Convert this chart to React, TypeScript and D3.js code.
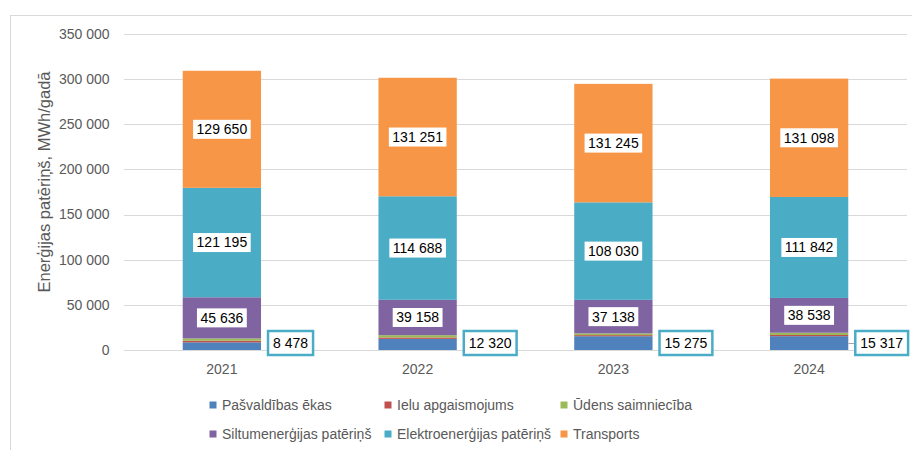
import React, { useRef, useEffect } from "react";
import * as d3 from "d3";

const years = ["2021", "2022", "2023", "2024"];
const seriesNames = [
  "Pašvaldības ēkas",
  "Ielu apgaismojums",
  "Ūdens saimniecība",
  "Siltumenerģijas patēriņš",
  "Elektroenerģijas patēriņš",
  "Transports",
];
const pasvaldibasEkas = [8478, 12320, 15275, 15317];
const ieluApgaismojums = [1800, 1600, 1200, 1300];
const udensSaimnieciba = [2500, 2500, 1900, 2500];
const siltumenergija = [45636, 39158, 37138, 38538];
const elektroenergija = [121195, 114688, 108030, 111842];
const transports = [129650, 131251, 131245, 131098];
const yTicks = [0, 50000, 100000, 150000, 200000, 250000, 300000, 350000];
const colors = ["#4F81BD", "#C0504D", "#9BBB59", "#8064A2", "#4BACC6", "#F79646"];

const seriesValues = [
  pasvaldibasEkas,
  ieluApgaismojums,
  udensSaimnieciba,
  siltumenergija,
  elektroenergija,
  transports,
];

const font = "'Liberation Sans', Arial, sans-serif";
const fmt = (v: number) => d3.format(",")(v).replace(/,/g, "\u00a0");

const App = () => {
  const svgRef = useRef<SVGSVGElement>(null);

  const width = 912;
  const height = 450;
  const marginTop = 34;
  const marginLeft = 124;
  const marginRight = 5;
  const plotBottom = 350;

  useEffect(() => {
    const svg = d3.select(svgRef.current);
    svg.selectAll("*").remove();

    // outer chart area border
    svg.append("line").attr("x1", 10.5).attr("x2", 10.5).attr("y1", 15).attr("y2", height)
      .attr("stroke", "#D9D9D9");
    svg.append("line").attr("x1", 10).attr("x2", width).attr("y1", 15.5).attr("y2", 15.5)
      .attr("stroke", "#D9D9D9");

    const x = d3.scaleBand()
      .domain(years)
      .range([marginLeft, width - marginRight])
      .paddingInner(0.6)
      .paddingOuter(0.3);

    const y = d3.scaleLinear()
      .domain([0, 350000])
      .range([plotBottom, marginTop]);

    // gridlines + tick labels
    const grid = svg.append("g");
    grid.selectAll("line")
      .data(yTicks)
      .join("line")
      .attr("x1", marginLeft)
      .attr("x2", width - marginRight)
      .attr("y1", d => Math.round(y(d)) + 0.5)
      .attr("y2", d => Math.round(y(d)) + 0.5)
      .attr("stroke", "#D9D9D9")
      .attr("stroke-width", 1);
    grid.selectAll("text")
      .data(yTicks)
      .join("text")
      .attr("x", 109.5)
      .attr("y", d => y(d))
      .attr("dy", "0.35em")
      .attr("text-anchor", "end")
      .attr("font-family", font)
      .attr("font-size", 14)
      .attr("fill", "#595959")
      .text(d => fmt(d));

    // y axis title
    svg.append("text")
      .attr("transform", `translate(44,182) rotate(-90)`)
      .attr("text-anchor", "middle")
      .attr("dy", "0.35em")
      .attr("font-family", font)
      .attr("font-size", 16.5)
      .attr("fill", "#595959")
      .text("Enerģijas patēriņš, MWh/gadā");

    // stacked data
    const table = years.map((yr, i) => {
      const row: Record<string, number | string> = { year: yr };
      seriesNames.forEach((s, k) => (row[s] = seriesValues[k][i]));
      return row;
    });
    const stacked = d3.stack<any>().keys(seriesNames)(table);

    const layers = svg.append("g")
      .selectAll("g")
      .data(stacked)
      .join("g")
      .attr("fill", (_, k) => colors[k]);
    layers.selectAll("rect")
      .data(d => d)
      .join("rect")
      .attr("x", d => x(d.data.year as string)!)
      .attr("width", x.bandwidth())
      .attr("y", d => y(d[1]))
      .attr("height", d => y(d[0]) - y(d[1]));

    // x labels
    svg.append("g")
      .selectAll("text")
      .data(years)
      .join("text")
      .attr("x", d => x(d)! + x.bandwidth() / 2)
      .attr("y", 369)
      .attr("dy", "0.35em")
      .attr("text-anchor", "middle")
      .attr("font-family", font)
      .attr("font-size", 14)
      .attr("fill", "#595959")
      .text(d => d);

    // inside data labels
    const labelGroup = svg.append("g");
    [3, 4, 5].forEach(k => {
      stacked[k].forEach(d => {
        const cx = x(d.data.year as string)! + x.bandwidth() / 2;
        const cy = (y(d[0]) + y(d[1])) / 2;
        const g = labelGroup.append("g");
        const rect = g.append("rect").attr("fill", "#FFFFFF");
        const t = g.append("text")
          .attr("x", cx)
          .attr("y", cy)
          .attr("dy", "0.35em")
          .attr("text-anchor", "middle")
          .attr("font-family", font)
          .attr("font-size", 14)
          .attr("fill", "#000000")
          .text(fmt(d[1] - d[0]));
        const w = (t.node() as SVGTextElement).getComputedTextLength();
        rect.attr("x", cx - w / 2 - 3.5).attr("y", cy - 9.5)
          .attr("width", w + 7).attr("height", 19);
      });
    });

    // outside boxed labels for the first series
    stacked[0].forEach(d => {
      const barRight = x(d.data.year as string)! + x.bandwidth();
      const left = barRight + 7;
      const cy = plotBottom - 7;
      const g = labelGroup.append("g");
      const lead = g.append("line")
        .attr("x1", barRight).attr("y1", cy + 0.5)
        .attr("x2", left).attr("y2", cy + 0.5)
        .attr("stroke", "#A6A6A6");
      const rect = g.append("rect")
        .attr("fill", "#FFFFFF")
        .attr("stroke", "#4BACC6")
        .attr("stroke-width", 2.5);
      const t = g.append("text")
        .attr("y", cy)
        .attr("dy", "0.35em")
        .attr("font-family", font)
        .attr("font-size", 14)
        .attr("fill", "#000000")
        .text(fmt(d[1] - d[0]));
      const w = (t.node() as SVGTextElement).getComputedTextLength();
      t.attr("x", left + 5);
      rect.attr("x", left).attr("y", cy - 12).attr("width", w + 10).attr("height", 24);
      if (d.data.year !== "2024") lead.remove();
    });

    // legend
    const colX = [213, 388, 564];
    const rowY = [405, 434];
    const legend = svg.append("g");
    seriesNames.forEach((s, k) => {
      const lx = colX[k % 3];
      const ly = rowY[Math.floor(k / 3)];
      legend.append("rect")
        .attr("x", lx - 3.5).attr("y", ly - 3.5)
        .attr("width", 7).attr("height", 7)
        .attr("fill", colors[k]);
      legend.append("text")
        .attr("x", lx + 9)
        .attr("y", ly)
        .attr("dy", "0.35em")
        .attr("font-family", font)
        .attr("font-size", 14)
        .attr("fill", "#595959")
        .text(s);
    });
  }, []);

  return (
    <svg
      ref={svgRef}
      width={width}
      height={height}
      style={{ position: "absolute", left: 0, top: 0, background: "#FFFFFF" }}
    />
  );
};

export default App;
